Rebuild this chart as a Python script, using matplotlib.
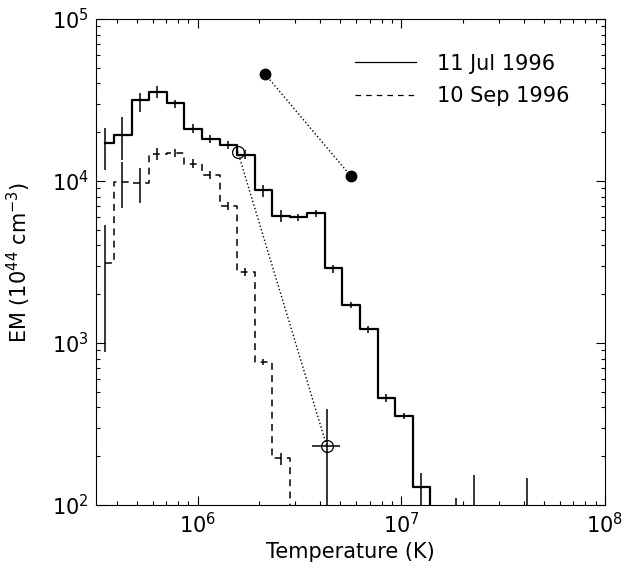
import numpy as np
import matplotlib.pyplot as plt
from matplotlib.lines import Line2D
from matplotlib.ticker import LogLocator, NullFormatter

plt.rcParams['font.family'] = ['DejaVu Sans']
plt.rcParams['mathtext.default'] = 'regular'

# Centros dos bins (log10 T)
log_t = [5.544, 5.630, 5.716, 5.802, 5.889, 5.975, 6.061, 6.148, 6.234, 6.320,
         6.407, 6.493, 6.579, 6.665, 6.752, 6.838, 6.924, 7.011, 7.097, 7.183,
         7.270, 7.356, 7.442, 7.528, 7.615]

# 11 Jul 1996 (linha cheia)
em_jul = [1.72e4, 1.92e4, 3.16e4, 3.54e4, 3.03e4, 2.10e4, 1.82e4, 1.67e4, 1.45e4, 8.8e3,
          6.08e3, 6.0e3, 6.35e3, 2.9e3, 1.72e3, 1.22e3, 457, 354, 129, 40,
          60, 70, 30, 25, 65]
em_jul_lo = [1.17e4, 1.35e4, 2.67e4, 3.25e4, 2.82e4, 1.97e4, 1.72e4, 1.58e4, 1.36e4, 8.0e3,
             5.6e3, 5.7e3, 6.0e3, 2.7e3, 1.64e3, 1.16e3, 430, 340, 10, 40,
             60, 10, 30, 25, 10]
em_jul_hi = [2.12e4, 2.48e4, 3.49e4, 3.86e4, 3.16e4, 2.24e4, 1.93e4, 1.77e4, 1.55e4, 9.4e3,
             6.6e3, 6.3e3, 6.6e3, 3.03e3, 1.80e3, 1.28e3, 485, 370, 158, 40,
             110, 153, 30, 25, 147]

# 10 Sep 1996 (tracejada)
em_sep = [3.12e3, 9.9e3, 9.7e3, 1.46e4, 1.49e4, 1.28e4, 1.09e4, 7.0e3, 2.74e3, 764, 195, 40]
em_sep_lo = [880, 6.8e3, 7.3e3, 1.35e4, 1.41e4, 1.2e4, 1.03e4, 6.6e3, 2.6e3, 730, 177, 40]
em_sep_hi = [5.35e3, 1.31e4, 1.2e4, 1.6e4, 1.58e4, 1.36e4, 1.15e4, 7.4e3, 2.9e3, 800, 209, 40]

# Pontos isolados
t_aberto = [1.57e6, 4.3e6]
em_aberto = [1.52e4, 231]
t_aberto_lo = [1.57e6, 3.62e6]
t_aberto_hi = [1.57e6, 4.99e6]
em_aberto_lo = [1.52e4, 10]
em_aberto_hi = [1.52e4, 392]

t_cheio = [2.14e6, 5.65e6]
em_cheio = [4.57e4, 1.07e4]
em_cheio_lo = [4.57e4, 1.02e4]
em_cheio_hi = [4.57e4, 1.13e4]

t = 10 ** np.array(log_t)
t_sep = t[:len(em_sep)]
tracejado = (0, (4.5, 3.5))

fig = plt.figure(figsize=(6.25, 5.69), dpi=100)
ax = fig.add_axes([96 / 625, 1 - 505 / 569, 509 / 625, 486 / 569])

ax.step(t, em_jul, where='mid', color='k', lw=1.6)
ax.errorbar(t, em_jul, yerr=[np.array(em_jul) - em_jul_lo, np.array(em_jul_hi) - em_jul],
            fmt='none', ecolor='k', elinewidth=1.1, capsize=0)

ax.step(t_sep, em_sep, where='mid', color='k', lw=1.1, ls=tracejado)
ax.errorbar(t_sep, em_sep, yerr=[np.array(em_sep) - em_sep_lo, np.array(em_sep_hi) - em_sep],
            fmt='none', ecolor='k', elinewidth=1.1, capsize=0)

ax.plot(t_aberto, em_aberto, ls=':', color='k', lw=1.0)
ax.errorbar(t_aberto, em_aberto,
            xerr=[np.array(t_aberto) - t_aberto_lo, np.array(t_aberto_hi) - t_aberto],
            yerr=[np.array(em_aberto) - em_aberto_lo, np.array(em_aberto_hi) - em_aberto],
            fmt='o', mfc='none', mec='k', ms=8.5, mew=0.9, ecolor='k', elinewidth=1.1, capsize=0)

ax.plot(t_cheio, em_cheio, ls=':', color='k', lw=1.0)
ax.errorbar(t_cheio, em_cheio, yerr=[np.array(em_cheio) - em_cheio_lo, np.array(em_cheio_hi) - em_cheio],
            fmt='o', color='k', ms=7.5, ecolor='k', elinewidth=1.1, capsize=0)

ax.set_xscale('log')
ax.set_yscale('log')
ax.set_xlim(10 ** 5.5, 1e8)
ax.set_ylim(1e2, 1e5)
ax.xaxis.set_major_locator(LogLocator(base=10, numticks=10))
ax.xaxis.set_minor_locator(LogLocator(base=10, subs=np.arange(2, 10), numticks=20))
ax.yaxis.set_minor_locator(LogLocator(base=10, subs=np.arange(2, 10), numticks=20))
ax.xaxis.set_minor_formatter(NullFormatter())
ax.yaxis.set_minor_formatter(NullFormatter())
ax.tick_params(which='both', direction='in', top=True, right=True, width=0.8, labelsize=15)
ax.tick_params(which='major', length=6.5, pad=5)
ax.tick_params(which='minor', length=3.2)
for s in ax.spines.values():
    s.set_linewidth(0.8)

ax.set_xlabel('Temperature (K)', fontsize=15)
ax.xaxis.set_label_coords(0.5, -0.076)
ax.set_ylabel('EM (10$^{44}$ cm$^{-3}$)', fontsize=15)
ax.yaxis.set_label_coords(-0.124, 0.5)

handles = [Line2D([], [], color='k', lw=0.9),
           Line2D([], [], color='k', lw=0.9, ls=(0, (4.5, 4)))]
ax.legend(handles, ['11 Jul 1996', '10 Sep 1996'], frameon=False, loc='upper left',
          bbox_to_anchor=(0.481, 0.959), fontsize=15,
          handlelength=2.9, handletextpad=1.0, labelspacing=0.6, borderpad=0.2)

fig.savefig('out.png', dpi=100)
